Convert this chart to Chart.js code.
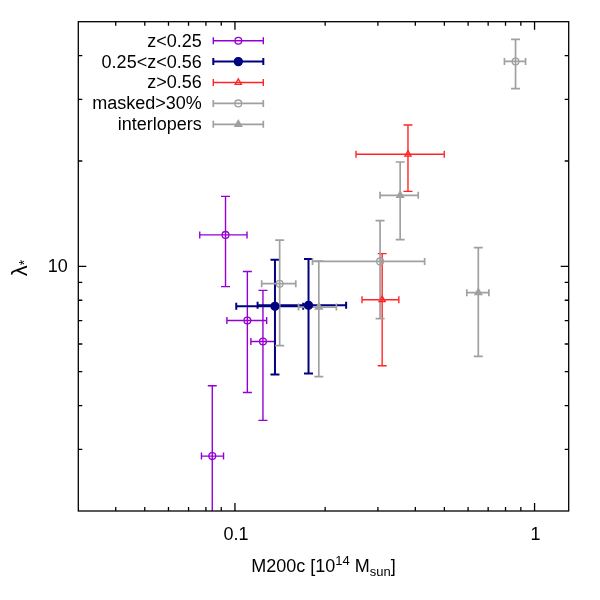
<!DOCTYPE html>
<html>
<head>
<meta charset="utf-8">
<script src="https://cdn.jsdelivr.net/npm/chart.js@4/dist/chart.umd.min.js"></script>
<style>
html,body{margin:0;padding:0;background:#fff;}
#wrap{width:600px;height:600px;}
canvas{display:block;}
</style>
</head>
<body>
<div id="wrap"><canvas id="c" width="600" height="600"></canvas></div>
<script>
// ---------- data ----------
const seriesLabels = ['z<0.25', '0.25<z<0.56', 'z>0.56', 'masked>30%', 'interlopers'];

const lowZ_x   = [0.093, 0.110, 0.124, 0.084];
const lowZ_y   = [12.3, 7.0, 6.1, 2.87];
const lowZ_xlo = [0.0763, 0.094, 0.113, 0.0773];
const lowZ_xhi = [0.1097, 0.1276, 0.1357, 0.0916];
const lowZ_ylo = [8.75, 4.36, 3.63, 1.5];
const lowZ_yhi = [15.85, 9.67, 8.54, 4.56];

const midZ_x   = [0.136, 0.176];
const midZ_y   = [7.69, 7.74];
const midZ_xlo = [0.101, 0.119];
const midZ_xhi = [0.169, 0.235];
const midZ_ylo = [4.91, 4.94];
const midZ_yhi = [10.45, 10.49];

const highZ_x   = [0.378, 0.310];
const highZ_y   = [20.9, 8.03];
const highZ_xlo = [0.2535, 0.2655];
const highZ_xhi = [0.4995, 0.3524];
const highZ_ylo = [16.38, 5.20];
const highZ_yhi = [25.35, 10.87];

const masked_x   = [0.141, 0.305, 0.864];
const masked_y   = [8.92, 10.33, 38.5];
const masked_xlo = [0.1228, 0.1815, 0.7935];
const masked_xhi = [0.1596, 0.4297, 0.933];
const masked_ylo = [5.94, 7.09, 32.2];
const masked_yhi = [11.89, 13.51, 44.5];

const inter_x   = [0.1905, 0.356, 0.649];
const inter_y   = [7.65, 15.96, 8.41];
const inter_xlo = [0.163, 0.305, 0.594];
const inter_xhi = [0.218, 0.409, 0.704];
const inter_ylo = [4.84, 11.92, 5.53];
const inter_yhi = [10.35, 19.87, 11.31];

const xMajorTicks = [0.1, 1];
const xTickLabels = ['0.1', '1'];
const xMinorTicks = [0.03,0.04,0.05,0.06,0.07,0.08,0.09,0.2,0.3,0.4,0.5,0.6,0.7,0.8,0.9];
const yMajorTicks = [10];
const yTickLabels = ['10'];
const yMinorTicks = [2,3,4,5,6,7,8,9,20,30,40];

// ---------- styles ----------
const FONT = '"Liberation Sans", Arial, Helvetica, sans-serif';
const PURPLE = '#9400d3', NAVY = '#000080', RED = '#ff2525', GREY = '#a0a0a0';

function pts(xs, ys){ return xs.map((v,i)=>({x:v, y:ys[i]})); }
function mk(label, xs, ys, xlo, xhi, ylo, yhi, color, style, filled, radius, lw){
  return {
    label: label,
    data: pts(xs, ys),
    errs: {xlo:xlo, xhi:xhi, ylo:ylo, yhi:yhi},
    errWidth: lw,
    borderColor: color,
    backgroundColor: filled ? color : 'rgba(0,0,0,0)',
    pointStyle: style,
    pointRadius: radius,
    pointHoverRadius: radius,
    pointBorderWidth: 1.3,
    showLine: false
  };
}

const datasets = [
  mk(seriesLabels[0], lowZ_x, lowZ_y, lowZ_xlo, lowZ_xhi, lowZ_ylo, lowZ_yhi, PURPLE, 'circle', false, 3.4, 1.4),
  mk(seriesLabels[1], midZ_x, midZ_y, midZ_xlo, midZ_xhi, midZ_ylo, midZ_yhi, NAVY, 'circle', true, 4, 2),
  mk(seriesLabels[2], highZ_x, highZ_y, highZ_xlo, highZ_xhi, highZ_ylo, highZ_yhi, RED, 'triangle', false, 3.6, 1.4),
  mk(seriesLabels[3], masked_x, masked_y, masked_xlo, masked_xhi, masked_ylo, masked_yhi, GREY, 'circle', false, 3.4, 1.7),
  mk(seriesLabels[4], inter_x, inter_y, inter_xlo, inter_xhi, inter_ylo, inter_yhi, GREY, 'triangle', true, 4, 1.7)
];

// ---------- plugins ----------
const errorBars = {
  id: 'errorBars',
  beforeDatasetsDraw(chart){
    const ctx = chart.ctx, xs = chart.scales.x, ys = chart.scales.y, a = chart.chartArea;
    ctx.save();
    ctx.beginPath(); ctx.rect(a.left, a.top, a.right-a.left, a.bottom-a.top); ctx.clip();
    chart.data.datasets.forEach(ds => {
      const e = ds.errs;
      ctx.strokeStyle = ds.borderColor; ctx.lineWidth = ds.errWidth;
      ds.data.forEach((p,i) => {
        const px = xs.getPixelForValue(p.x), py = ys.getPixelForValue(p.y);
        const x1 = xs.getPixelForValue(e.xlo[i]), x2 = xs.getPixelForValue(e.xhi[i]);
        const y1 = ys.getPixelForValue(e.ylo[i]), y2 = ys.getPixelForValue(e.yhi[i]);
        const cx = 3.5, cy = 4.5;
        ctx.beginPath();
        ctx.moveTo(x1, py); ctx.lineTo(x2, py);
        ctx.moveTo(x1, py-cx); ctx.lineTo(x1, py+cx);
        ctx.moveTo(x2, py-cx); ctx.lineTo(x2, py+cx);
        ctx.moveTo(px, y1); ctx.lineTo(px, y2);
        ctx.moveTo(px-cy, y1); ctx.lineTo(px+cy, y1);
        ctx.moveTo(px-cy, y2); ctx.lineTo(px+cy, y2);
        ctx.stroke();
      });
    });
    ctx.restore();
  }
};

function drawRich(ctx, parts, x, y, align){
  let w = 0;
  parts.forEach(p => { ctx.font = p[1]+'px '+FONT; w += ctx.measureText(p[0]).width; });
  let cx = align === 'center' ? x - w/2 : x;
  ctx.textAlign = 'left';
  parts.forEach(p => {
    ctx.font = p[1]+'px '+FONT;
    ctx.fillText(p[0], cx, y + p[2]);
    cx += ctx.measureText(p[0]).width;
  });
}

const frameAxes = {
  id: 'frameAxes',
  afterDraw(chart){
    const ctx = chart.ctx, xs = chart.scales.x, ys = chart.scales.y, a = chart.chartArea;
    ctx.save();
    ctx.strokeStyle = '#000'; ctx.lineWidth = 1.3;
    ctx.strokeRect(a.left, a.top, a.right-a.left, a.bottom-a.top);
    ctx.beginPath();
    const tickX = (v, len) => {
      const p = xs.getPixelForValue(v);
      if (p <= a.left+0.5 || p >= a.right-0.5) return;
      ctx.moveTo(p, a.bottom); ctx.lineTo(p, a.bottom-len);
      ctx.moveTo(p, a.top); ctx.lineTo(p, a.top+len);
    };
    const tickY = (v, len) => {
      const p = ys.getPixelForValue(v);
      if (p <= a.top+0.5 || p >= a.bottom-0.5) return;
      ctx.moveTo(a.left, p); ctx.lineTo(a.left+len, p);
      ctx.moveTo(a.right, p); ctx.lineTo(a.right-len, p);
    };
    xMajorTicks.forEach(v => tickX(v, 8));
    xMinorTicks.forEach(v => tickX(v, 4));
    yMajorTicks.forEach(v => tickY(v, 8));
    yMinorTicks.forEach(v => tickY(v, 4));
    ctx.stroke();

    // tick labels
    ctx.fillStyle = '#000';
    ctx.font = '18px '+FONT;
    ctx.textBaseline = 'alphabetic';
    ctx.textAlign = 'center';
    xMajorTicks.forEach((v,i) => ctx.fillText(xTickLabels[i], xs.getPixelForValue(v)+1, a.bottom+28.5));
    ctx.textAlign = 'right';
    ctx.textBaseline = 'middle';
    yMajorTicks.forEach((v,i) => ctx.fillText(yTickLabels[i], a.left-10.5, ys.getPixelForValue(v)+1));

    // axis titles
    ctx.textBaseline = 'alphabetic';
    drawRich(ctx, [['M200c [10',18,0],['14',13,-7],[' M',18,0],['sun',13,4],[']',18,0]], (a.left+a.right)/2, 572, 'center');
    ctx.save();
    ctx.translate(27, 268);
    ctx.rotate(-Math.PI/2);
    drawRich(ctx, [['λ',22,0],['*',14,2]], 0, 0, 'center');
    ctx.restore();

    // legend
    const rowY = [40.7, 61.6, 82.5, 103.4, 124.3];
    const tx = 201.7, l1 = 213.3, l2 = 263.3, lm = 238.3;
    chart.data.datasets.forEach((ds, i) => {
      const y = rowY[i];
      ctx.fillStyle = '#000';
      ctx.font = '18px '+FONT;
      ctx.textAlign = 'right';
      ctx.textBaseline = 'middle';
      ctx.fillText(ds.label, tx, y+1);
      ctx.strokeStyle = ds.borderColor; ctx.lineWidth = ds.errWidth;
      ctx.beginPath();
      ctx.moveTo(l1, y); ctx.lineTo(l2, y);
      ctx.moveTo(l1, y-3.5); ctx.lineTo(l1, y+3.5);
      ctx.moveTo(l2, y-3.5); ctx.lineTo(l2, y+3.5);
      ctx.stroke();
      ctx.fillStyle = ds.backgroundColor;
      ctx.lineWidth = ds.pointBorderWidth;
      Chart.helpers.drawPoint(ctx, {pointStyle: ds.pointStyle, radius: ds.pointRadius, borderWidth: ds.pointBorderWidth, rotation: 0}, lm, y);
    });
    ctx.restore();
  }
};

new Chart(document.getElementById('c'), {
  type: 'scatter',
  data: { datasets: datasets },
  options: {
    responsive: false,
    animation: false,
    devicePixelRatio: 1,
    layout: { padding: { left: 78.3, right: 31.3, top: 21.7, bottom: 89 } },
    plugins: { legend: { display: false }, tooltip: { enabled: false } },
    scales: {
      x: { type: 'logarithmic', min: 0.03, max: 1.3, display: false },
      y: { type: 'logarithmic', min: 2, max: 50, display: false }
    }
  },
  plugins: [errorBars, frameAxes]
});
</script>
</body>
</html>
